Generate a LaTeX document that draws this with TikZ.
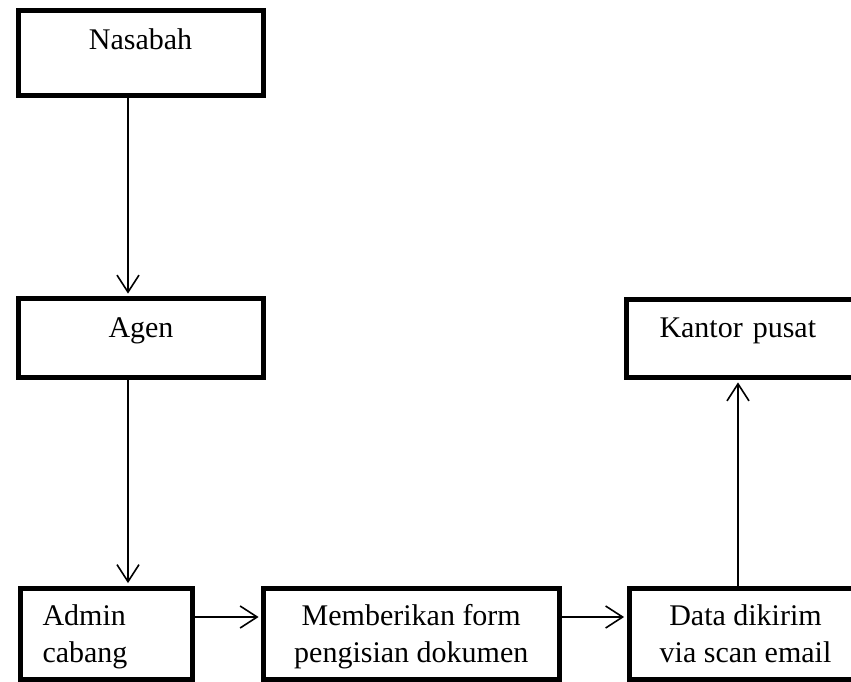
\documentclass[tikz,border=0pt]{standalone}
\usepackage{fontspec}
\setmainfont{Liberation Serif}
\usetikzlibrary{arrows.meta}

\begin{document}
\begin{tikzpicture}[x=0.5pt, y=-0.5pt,
  box/.style={draw, line width=2.5pt, rectangle, anchor=north west,
    font=\fontsize{15}{18.5}\selectfont, text height=10pt},
  flow/.style={line width=0.8pt, -{Straight Barb[length=8.5pt,width=11pt,line width=0.8pt]},
    shorten >=1.2pt}]
  \clip (0,0) rectangle (851,681);
  \node[box, minimum width=122.5pt, minimum height=42.5pt, text depth=13.5pt]
    (nasabah) at (15.5,8) {Nasabah};
  \node[box, minimum width=122.5pt, minimum height=39.5pt, text depth=10.5pt]
    (agen) at (16,296) {Agen};
  \node[box, minimum height=39.25pt, text depth=10.5pt, align=left,
    text width=100pt, inner xsep=16.5pt]
    (kantor) at (624,296.5) {Kantor pusat};
  \node[box, minimum height=45.75pt, text depth=18pt, align=left,
    text width=63.5pt, inner xsep=11.25pt]
    (admin) at (17.5,585.5) {Admin\\cabang};
  \node[box, minimum width=147.75pt, minimum height=45.75pt, text height=,
    text depth=0pt, align=center]
    (form) at (261,585.5) {Memberikan form\\pengisian dokumen};
  \node[box, minimum width=116.5pt, minimum height=45.75pt, text height=,
    text depth=0pt, align=center]
    (data) at (626.5,585.5) {Data dikirim\\via scan email};
  \coordinate (leftline) at (128,0);
  \coordinate (rightline) at (738,0);
  \coordinate (lowrow) at (0,617);
  \draw[flow] (nasabah.south -| leftline) -- (agen.north -| leftline);
  \draw[flow] (agen.south -| leftline) -- (admin.north -| leftline);
  \draw[flow] (admin.east |- lowrow) -- (form.west |- lowrow);
  \draw[flow] (form.east |- lowrow) -- (data.west |- lowrow);
  \draw[flow] (data.north -| rightline) -- (kantor.south -| rightline);
\end{tikzpicture}
\end{document}
